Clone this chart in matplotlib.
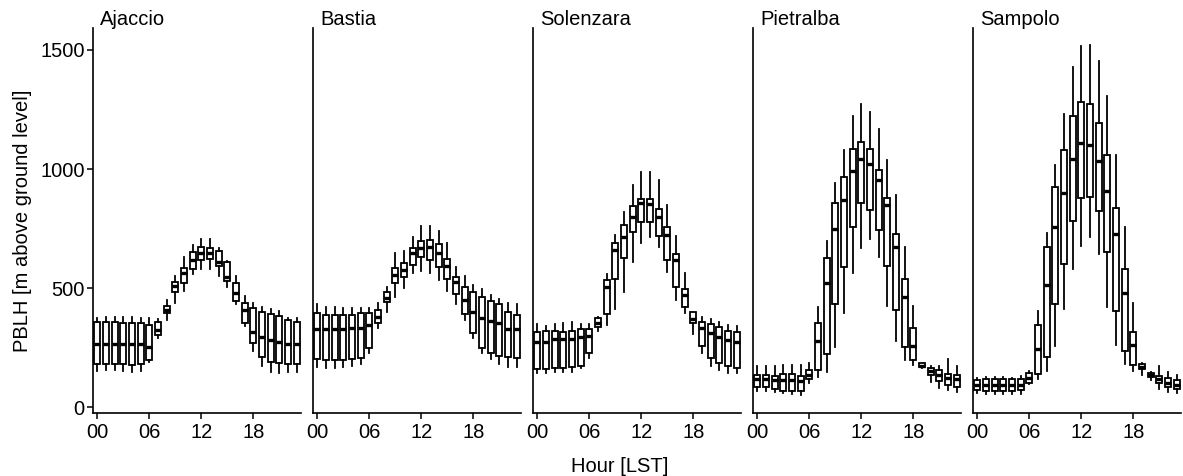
import matplotlib
matplotlib.use("Agg")
import matplotlib.pyplot as plt

plt.rcParams["font.family"] = ["Liberation Sans", "DejaVu Sans"]

hours = list(range(24))
hour_ticks = [0, 6, 12, 18]
hour_labels = ["00", "06", "12", "18"]
stations = ["Ajaccio", "Bastia", "Solenzara", "Pietralba", "Sampolo"]

# Ajaccio
ajaccio_hi = [373, 380, 380, 380, 380, 375, 373, 369, 450, 552, 632, 681, 705, 705, 667, 614, 551, 467, 436, 420, 411, 406, 373, 373]
ajaccio_q3 = [359, 359, 357, 355, 355, 352, 345, 359, 425, 524, 583, 653, 674, 670, 657, 611, 520, 439, 415, 399, 392, 385, 366, 359]
ajaccio_med = [264, 264, 264, 264, 264, 264, 255, 325, 408, 509, 562, 618, 646, 646, 611, 548, 481, 408, 317, 294, 283, 276, 264, 264]
ajaccio_q1 = [180, 180, 180, 180, 178, 180, 199, 303, 394, 483, 523, 579, 618, 621, 594, 530, 446, 355, 269, 210, 192, 187, 180, 180]
ajaccio_lo = [154, 156, 156, 154, 150, 154, 192, 290, 366, 436, 490, 559, 579, 579, 551, 506, 434, 341, 236, 175, 150, 143, 150, 150]

# Bastia
bastia_hi = [434, 422, 422, 418, 415, 415, 415, 439, 506, 646, 657, 713, 761, 761, 741, 691, 590, 551, 513, 495, 471, 453, 436, 434]
bastia_q3 = [394, 387, 387, 387, 387, 394, 394, 408, 483, 583, 604, 667, 699, 702, 685, 622, 548, 506, 483, 464, 448, 432, 401, 387]
bastia_med = [327, 327, 327, 327, 331, 334, 345, 380, 457, 555, 576, 646, 667, 674, 646, 594, 527, 450, 399, 373, 364, 355, 327, 327]
bastia_q1 = [201, 199, 199, 199, 201, 206, 248, 352, 443, 523, 545, 597, 632, 618, 587, 537, 476, 392, 310, 250, 229, 215, 213, 206]
bastia_lo = [168, 164, 164, 171, 173, 182, 229, 331, 401, 464, 499, 565, 573, 565, 534, 490, 434, 366, 292, 229, 201, 182, 171, 171]

# Solenzara
solenzara_hi = [350, 341, 350, 352, 359, 350, 350, 380, 559, 723, 821, 933, 986, 989, 954, 849, 719, 565, 401, 378, 369, 359, 345, 341]
solenzara_q3 = [317, 320, 320, 317, 322, 327, 327, 373, 534, 688, 765, 846, 876, 876, 832, 758, 643, 498, 399, 359, 348, 336, 320, 315]
solenzara_med = [276, 276, 285, 285, 285, 294, 299, 355, 503, 660, 713, 797, 856, 853, 800, 723, 618, 471, 369, 331, 310, 296, 283, 276]
solenzara_q1 = [159, 159, 164, 166, 171, 173, 227, 338, 392, 537, 628, 734, 779, 778, 720, 618, 506, 422, 352, 257, 206, 185, 175, 164]
solenzara_lo = [145, 145, 150, 150, 150, 164, 206, 320, 345, 411, 485, 608, 688, 713, 671, 569, 450, 394, 306, 229, 173, 157, 145, 145]

# Pietralba
pietralba_hi = [173, 173, 173, 178, 178, 178, 185, 422, 699, 943, 1080, 1222, 1273, 1238, 1166, 1038, 891, 674, 425, 187, 173, 173, 201, 173]
pietralba_q3 = [136, 136, 131, 140, 140, 133, 157, 352, 625, 859, 968, 1084, 1112, 1084, 996, 880, 727, 540, 331, 185, 164, 157, 140, 136]
pietralba_med = [117, 117, 115, 115, 115, 110, 136, 280, 523, 750, 870, 993, 1041, 1021, 954, 849, 674, 462, 257, 175, 154, 136, 124, 119]
pietralba_q1 = [84, 84, 76, 70, 70, 70, 117, 157, 224, 432, 590, 758, 856, 828, 744, 594, 408, 252, 199, 168, 136, 110, 94, 87]
pietralba_lo = [70, 70, 66, 62, 56, 52, 101, 126, 150, 252, 394, 562, 667, 705, 632, 425, 280, 199, 178, 164, 105, 83, 73, 66]

# Sampolo
sampolo_hi = [124, 128, 128, 128, 125, 131, 152, 406, 733, 1017, 1231, 1427, 1516, 1520, 1453, 1306, 1059, 758, 439, 185, 150, 175, 150, 136]
sampolo_q3 = [115, 117, 117, 117, 117, 119, 143, 345, 674, 923, 1082, 1222, 1282, 1271, 1192, 1059, 838, 579, 317, 180, 145, 133, 122, 115]
sampolo_med = [94, 94, 94, 94, 94, 94, 124, 243, 513, 758, 901, 1043, 1110, 1101, 1035, 909, 726, 481, 262, 171, 136, 119, 103, 94]
sampolo_q1 = [73, 70, 70, 70, 70, 73, 103, 140, 213, 434, 600, 782, 877, 881, 824, 650, 406, 238, 178, 159, 129, 101, 87, 76]
sampolo_lo = [59, 56, 56, 56, 56, 55, 98, 117, 152, 259, 411, 579, 677, 713, 643, 420, 262, 180, 154, 136, 115, 76, 66, 62]

series = [
    (ajaccio_lo, ajaccio_q1, ajaccio_med, ajaccio_q3, ajaccio_hi),
    (bastia_lo, bastia_q1, bastia_med, bastia_q3, bastia_hi),
    (solenzara_lo, solenzara_q1, solenzara_med, solenzara_q3, solenzara_hi),
    (pietralba_lo, pietralba_q1, pietralba_med, pietralba_q3, pietralba_hi),
    (sampolo_lo, sampolo_q1, sampolo_med, sampolo_q3, sampolo_hi),
]

fig = plt.figure(figsize=(11.83, 4.76), dpi=100)
W, H = 1183, 476
lefts = [93, 313, 533, 753, 973]
pw = 208
bottom, top = 63, 448
fs = 14.5

for i, (name, (lo, q1, med, q3, hi)) in enumerate(zip(stations, series)):
    ax = fig.add_axes([lefts[i] / W, bottom / H, pw / W, (top - bottom) / H])
    stats = []
    for h in hours:
        stats.append({"whislo": lo[h], "q1": q1[h], "med": med[h],
                      "q3": q3[h], "whishi": hi[h], "fliers": []})
    ax.bxp(stats, positions=hours, widths=0.72, showcaps=False,
           showfliers=False, patch_artist=True,
           boxprops=dict(facecolor="white", edgecolor="black", linewidth=1.3),
           medianprops=dict(color="black", linewidth=2.4, solid_capstyle="butt"),
           whiskerprops=dict(color="black", linewidth=1.3))
    ax.set_xlim(-0.5, 23.5)
    ax.set_ylim(-24, 1592)
    ax.set_xticks(hour_ticks)
    ax.set_xticklabels(hour_labels)
    ax.spines["top"].set_visible(False)
    ax.spines["right"].set_visible(False)
    ax.spines["left"].set_linewidth(1.2)
    ax.spines["bottom"].set_linewidth(1.2)
    ax.tick_params(axis="x", length=4, width=1.1, labelsize=fs, pad=3.5, colors="black")
    ax.set_yticks([0, 500, 1000, 1500])
    if i == 0:
        ax.tick_params(axis="y", length=4, width=1.1, labelsize=fs, pad=2)
        ax.set_ylabel("PBLH [m above ground level]", fontsize=fs, labelpad=6)
    else:
        ax.tick_params(axis="y", length=0, labelleft=False)
    ax.text(0.035, 0.997, name, transform=ax.transAxes, ha="left", va="bottom", fontsize=fs)

fig.text(620 / W, 1 - 466 / H, "Hour [LST]", ha="center", va="center", fontsize=fs)

fig.savefig("out.png", dpi=100)
